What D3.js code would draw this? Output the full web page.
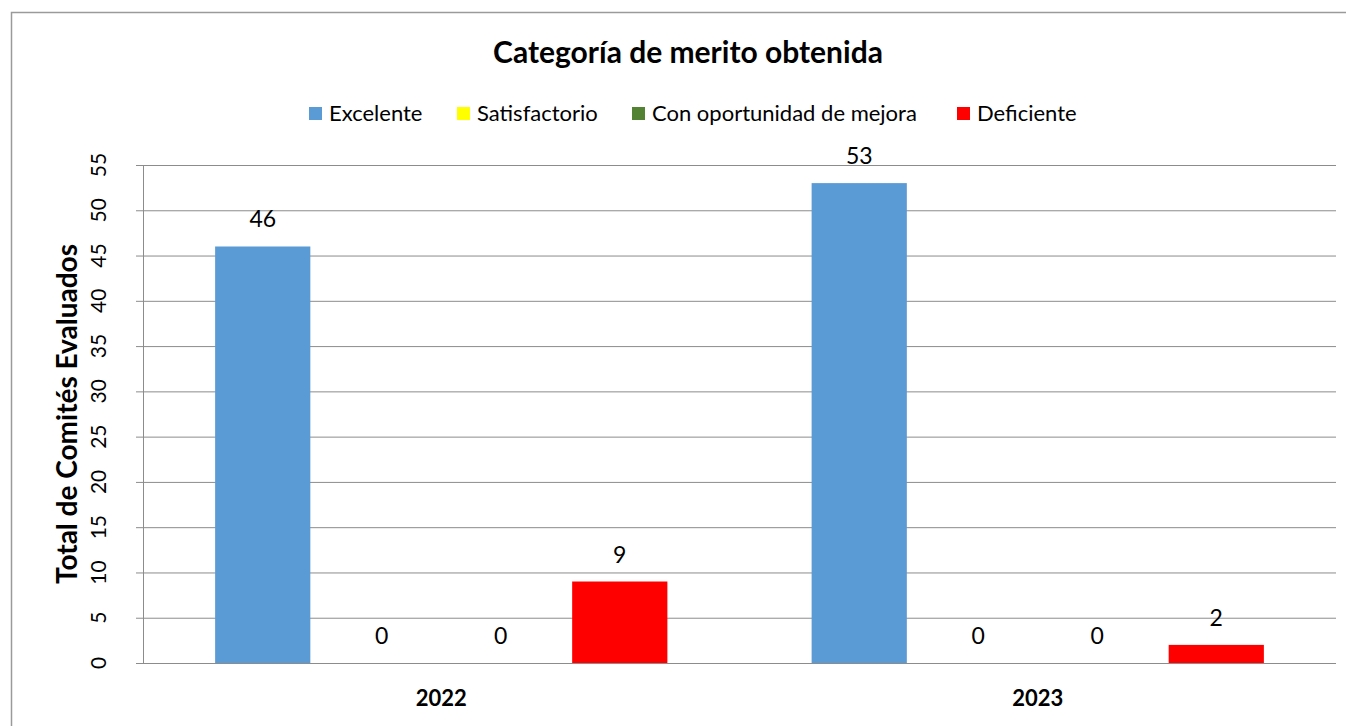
<!DOCTYPE html>
<html><head><meta charset="utf-8">
<script src="https://cdn.jsdelivr.net/npm/d3@7"></script>
<style>body{margin:0;background:#fff;} text{font-family:Lato,"Liberation Sans",Arial,sans-serif;}</style>
</head><body>
<svg id="c" width="1346" height="726"></svg>
<script>
const categories = ["2022", "2023"];
const seriesNames = ["Excelente", "Satisfactorio", "Con oportunidad de mejora", "Deficiente"];
const seriesColors = ["#5B9BD5", "#FFFF00", "#548235", "#FF0000"];
const excelente = [46, 53];
const satisfactorio = [0, 0];
const conOportunidad = [0, 0];
const deficiente = [9, 2];
const yTicks = [0, 5, 10, 15, 20, 25, 30, 35, 40, 45, 50, 55];
const seriesValues = [excelente, satisfactorio, conOportunidad, deficiente];

const svg = d3.select("#c");
const pLeft = 143, pRight = 1336, pTop = 165, pBottom = 663;

svg.append("rect").attr("x", 11.5).attr("y", 12.5).attr("width", 1346).attr("height", 726)
  .attr("fill", "#fff").attr("stroke", "#9a9a9a").attr("stroke-width", 1.5);

const y = d3.scaleLinear().domain([0, 55]).range([pBottom, pTop]);
const x0 = d3.scaleBand().domain(categories).range([pLeft, pRight]).padding(0);
const x1 = d3.scaleBand().domain(seriesNames).range([0, x0.bandwidth()]).paddingInner(0.2).paddingOuter(0.606);

// gridlines
svg.append("g").selectAll("line").data(yTicks).join("line")
  .attr("x1", pLeft - 7).attr("x2", pRight)
  .attr("y1", d => y(d) + 0.5).attr("y2", d => y(d) + 0.5)
  .attr("stroke", "#8c8c8c").attr("stroke-width", 1);
svg.append("line").attr("x1", pLeft + 0.5).attr("x2", pLeft + 0.5).attr("y1", pTop).attr("y2", pBottom)
  .attr("stroke", "#8c8c8c");

// y tick labels rotated
svg.append("g").selectAll("text").data(yTicks).join("text")
  .attr("transform", d => `translate(106,${y(d)}) rotate(-90)`)
  .attr("text-anchor", "middle").attr("font-size", 21).attr("fill", "#000")
  .text(d => d);

// bars
const rows = [];
categories.forEach((c, i) => seriesNames.forEach((s, j) => rows.push({c, s, j, v: seriesValues[j][i]})));
svg.append("g").selectAll("rect").data(rows).join("rect")
  .attr("x", d => x0(d.c) + x1(d.s)).attr("width", x1.bandwidth())
  .attr("y", d => y(d.v)).attr("height", d => y(0) - y(d.v))
  .attr("fill", d => seriesColors[d.j]);
svg.append("g").selectAll("text").data(rows).join("text")
  .attr("x", d => x0(d.c) + x1(d.s) + x1.bandwidth() / 2)
  .attr("y", d => y(d.v) - 19)
  .attr("text-anchor", "middle").attr("font-size", 23).attr("fill", "#000")
  .text(d => d.v);

// category labels
svg.append("g").selectAll("text").data(categories).join("text")
  .attr("x", d => x0(d) + x0.bandwidth() / 2).attr("y", 706)
  .attr("text-anchor", "middle").attr("font-size", 22).attr("font-weight", "bold")
  .text(d => d);

// axis title
svg.append("text").attr("transform", "translate(77,414) rotate(-90)")
  .attr("text-anchor", "middle").attr("font-size", 28).attr("font-weight", "bold")
  .text("Total de Comités Evaluados");

// title
svg.append("text").attr("x", 688).attr("y", 63).attr("text-anchor", "middle")
  .attr("font-size", 30).attr("font-weight", "bold").text("Categoría de merito obtenida");

// legend
const legX = [309, 457, 632, 957];
const leg = svg.append("g").selectAll("g").data(seriesNames).join("g")
  .attr("transform", (d, i) => `translate(${legX[i]},107)`);
leg.append("rect").attr("width", 13).attr("height", 13).attr("fill", (d, i) => seriesColors[i]);
leg.append("text").attr("x", 20).attr("y", 14).attr("font-size", 22).text(d => d);
</script>
</body></html>
